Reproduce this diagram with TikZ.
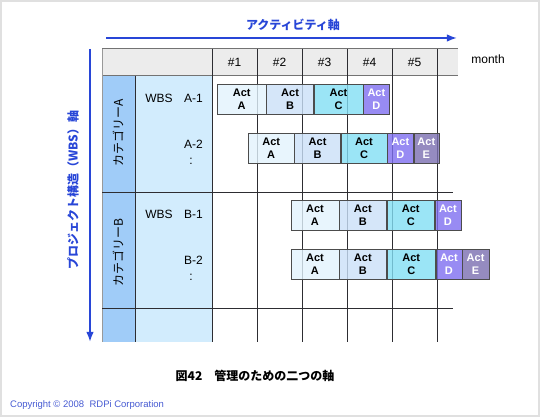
\documentclass[tikz,border=0pt]{standalone}
\usepackage{fontspec}
\setmainfont{Liberation Sans}
\newfontfamily\jp{Noto Sans CJK JP}
\usetikzlibrary{positioning,arrows.meta}
\definecolor{axisblue}{RGB}{40,70,215}
\definecolor{copyblue}{RGB}{70,90,210}
\definecolor{catblue}{RGB}{160,204,248}
\definecolor{wbsblue}{RGB}{210,236,253}
\definecolor{headgray}{RGB}{236,236,236}
\definecolor{gridline}{RGB}{45,45,50}
\definecolor{actA}{RGB}{226,243,253}
\definecolor{actB}{RGB}{202,224,248}
\definecolor{actC}{RGB}{130,222,244}
\definecolor{actD}{RGB}{126,110,240}
\definecolor{actE}{RGB}{122,110,176}

\begin{document}
\begin{tikzpicture}[x=1pt, y=-1pt,
			>=Latex,   % arrow tips
			font=\fontsize{12}{14}\selectfont,
			actbox/.style={draw=black!70, fill=#1, fill opacity=0.8, text opacity=1,
				minimum height=30pt, inner sep=0pt, align=center, anchor=west,
				font=\fontsize{11}{13}\selectfont\bfseries},
			actdark/.style={actbox=#1, text=white},
			colhead/.style={minimum width=45pt, minimum height=27pt, inner sep=0pt},
			gridrule/.style={draw=gridline, line width=1pt},
			axisarrow/.style={->, draw=axisblue, line width=1.6pt}]
			% page size and frame
			\useasboundingbox (0,0) rectangle (540,417);
			\draw[black!12, line width=2pt] (1,1) rectangle (539,416);
			% fill the table
			\fill[headgray] (102,49) rectangle (458,76);
			\fill[catblue] (102,76) rectangle (135,342);
			\fill[wbsblue] (135,76) rectangle (212,342);
			% header cells
			\foreach \i in {1,...,5}
				\node[colhead] (col\i) at (189.5+45*\i,62.5) {\#\i};
			\node (month) at (488,59) {month};
			% table rules
			\draw[gridrule, black!55] (102,49) -- (458,49);
			\draw[gridrule, black!55] (102,76) -- (458,76);
			\draw[black!40, line width=1pt] (102,49) -- (102,342);
			\draw[gridrule] (135,76) -- (135,342);
			\foreach \x in {212,257,...,437}
				\draw[gridrule] (\x,49) -- (\x,342);
			\foreach \y in {192,308}
				\draw[gridrule] (102,\y) -- (453,\y);
			% axes
			\draw[axisarrow] (106,38) -- (457,38);
			\draw[axisarrow] (90,49) -- (90,342);
			\node[text=axisblue, font=\jp\fontsize{12}{14}\selectfont\bfseries] (actaxis) at (293,25) {アクティビティ軸};
			\node[text=axisblue, rotate=90, font=\jp\fontsize{12}{14}\selectfont\bfseries] (wbsaxis) at (73,190) {プロジェクト構造（WBS）軸};
			% categories
			\node[rotate=90, font=\jp\fontsize{12}{14}\selectfont] (catA) at (118,133) {カテゴリーA};
			\node[rotate=90, font=\jp\fontsize{12}{14}\selectfont] (catB) at (118,253) {カテゴリーB};
			% WBS items
			\node (wbsA) at (159,98) {WBS};
			\node (itemA1) at (193.5,98) {A-1};
			\node (itemA2) at (193.5,144) {A-2};
			\node (dotsA) at (191,161) {:};
			\node (wbsB) at (159,214) {WBS};
			\node (itemB1) at (193.5,214) {B-1};
			\node (itemB2) at (193.5,260) {B-2};
			\node (dotsB) at (191,277) {:};
			% activities A-1
			\node[actbox=actA, minimum width=49pt] (a1A) at (217,99) {Act\\A};
			\node[actbox=actB, minimum width=47pt, right=0pt of a1A] (a1B) {Act\\B};
			\node[actbox=actC, minimum width=49pt, right=0pt of a1B] (a1C) {Act\\C};
			\node[actdark=actD, minimum width=26pt, right=0pt of a1C] (a1D) {Act\\D};
			% activities A-2
			\node[actbox=actA, minimum width=46pt] (a2A) at (248,148) {Act\\A};
			\node[actbox=actB, minimum width=46pt, right=0pt of a2A] (a2B) {Act\\B};
			\node[actbox=actC, minimum width=46pt, right=0pt of a2B] (a2C) {Act\\C};
			\node[actdark=actD, minimum width=26pt, right=0pt of a2C] (a2D) {Act\\D};
			\node[actdark=actE, minimum width=25pt, right=0pt of a2D] (a2E) {Act\\E};
			% activities B-1
			\node[actbox=actA, minimum width=47.5pt] (b1A) at (291,215) {Act\\A};
			\node[actbox=actB, minimum width=47.5pt, right=0pt of b1A] (b1B) {Act\\B};
			\node[actbox=actC, minimum width=47.5pt, right=0pt of b1B] (b1C) {Act\\C};
			\node[actdark=actD, minimum width=26pt, right=0pt of b1C] (b1D) {Act\\D};
			% activities B-2
			\node[actbox=actA, minimum width=47.5pt] (b2A) at (291,264) {Act\\A};
			\node[actbox=actB, minimum width=47.5pt, right=0pt of b2A] (b2B) {Act\\B};
			\node[actbox=actC, minimum width=48.5pt, right=0pt of b2B] (b2C) {Act\\C};
			\node[actdark=actD, minimum width=26pt, right=0pt of b2C] (b2D) {Act\\D};
			\node[actdark=actE, minimum width=26.5pt, right=0pt of b2D] (b2E) {Act\\E};
			% caption
			\node[font=\jp\fontsize{12}{14}\selectfont\bfseries] (caption) at (255,376) {図42　管理のための二つの軸};
			\node[anchor=west, text=copyblue, inner sep=0pt, font=\fontsize{9.5}{11}\selectfont] (copy) at (10,405) {Copyright © 2008\ \ RDPi Corporation};
		\end{tikzpicture}
\end{document}
